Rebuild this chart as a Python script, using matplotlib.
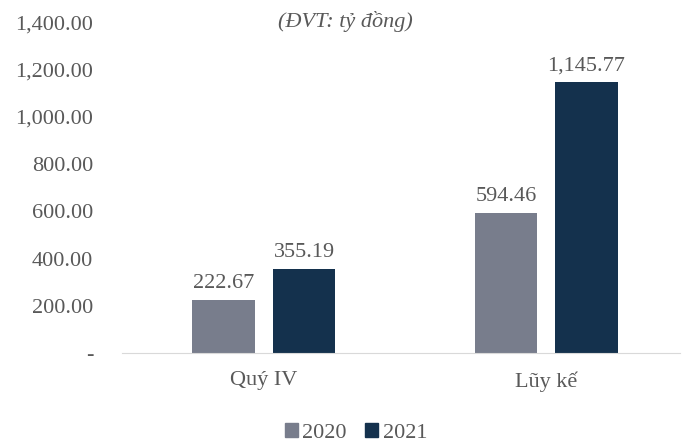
import matplotlib
matplotlib.use('Agg')
import matplotlib.pyplot as plt
from matplotlib.ticker import FuncFormatter
from matplotlib.patches import Patch

categories = ['Quý IV', 'Lũy kế']
years = ['2020', '2021']
values_2020 = [222.67, 594.46]
values_2021 = [355.19, 1145.77]
yticks = [0, 200, 400, 600, 800, 1000, 1200, 1400]

plt.rcParams['font.family'] = ['Liberation Serif', 'DejaVu Serif']
text_color = '#595959'
colors = ['#787d8c', '#14314d']

fig = plt.figure(figsize=(6.87, 4.43), dpi=100)
ax = fig.add_axes([0.178, 0.203, 0.812, 0.747])

x = list(range(len(categories)))
width = 0.223
offset = 0.142
b1 = ax.bar([i - offset for i in x], values_2020, width, color=colors[0])
b2 = ax.bar([i + offset for i in x], values_2021, width, color=colors[1])

for bars, vals in ((b1, values_2020), (b2, values_2021)):
    for rect, v in zip(bars, vals):
        ax.annotate('{:,.2f}'.format(v),
                    (rect.get_x() + rect.get_width() / 2, rect.get_height()),
                    xytext=(0, 5), textcoords='offset points',
                    ha='center', va='bottom', fontsize=16, color=text_color)

ax.set_xlim(-0.502, 1.475)
ax.set_ylim(0, 1400)
ax.set_yticks(yticks)
ax.yaxis.set_major_formatter(FuncFormatter(
    lambda v, p: '-' if v == 0 else '{:,.2f}'.format(v)))
ax.set_xticks(x)
ax.set_xticklabels(categories)

for s in ('top', 'right', 'left'):
    ax.spines[s].set_visible(False)
ax.spines['bottom'].set_color('#d9d9d9')
ax.tick_params(axis='both', length=0, labelsize=16, labelcolor=text_color)
ax.tick_params(axis='y', pad=21)
ax.tick_params(axis='x', pad=13)

fig.text(0.503, 0.952, '(ĐVT: tỷ đồng)', ha='center', va='center',
         fontsize=16, style='italic', color=text_color)

handles = [Patch(color=c) for c in colors]
fig.legend(handles, years, loc='center', bbox_to_anchor=(0.518, 0.022),
           ncol=2, frameon=False, fontsize=16, labelcolor=text_color,
           handlelength=0.6, handleheight=0.6, handletextpad=0.2,
           columnspacing=0.8)

fig.savefig('out.png', dpi=100)
